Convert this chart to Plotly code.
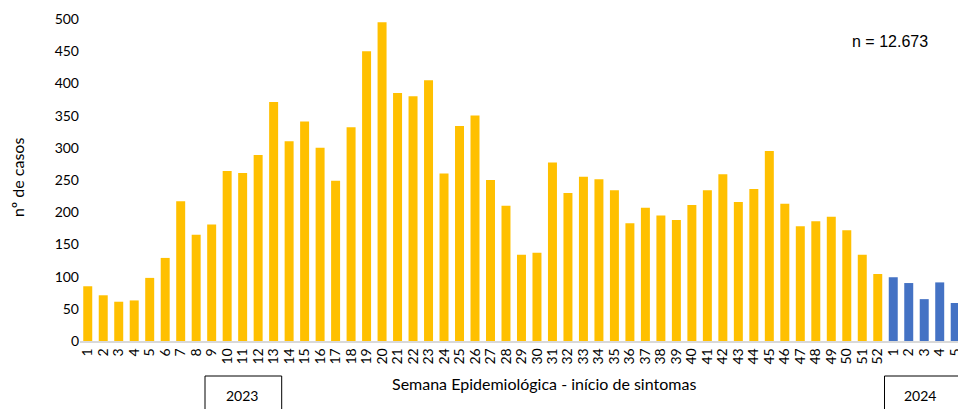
import plotly.graph_objects as go

weeks_2023 = [str(i) for i in range(1, 53)]
cases_2023 = [85, 71, 61, 63, 98, 129, 217, 165, 181, 264, 261, 289, 371, 310, 341, 300,
              249, 332, 450, 495, 385, 380, 405, 260, 334, 350, 250, 210, 134, 137,
              277, 230, 255, 251, 234, 183, 207, 195, 188, 211, 234, 259, 216, 236,
              295, 213, 178, 186, 193, 172, 134, 104]
weeks_2024 = ["1", "2", "3", "4", "5"]
cases_2024 = [99, 90, 65, 91, 59]

tick_labels = weeks_2023 + weeks_2024
pos_2023 = list(range(len(weeks_2023)))
pos_2024 = list(range(len(weeks_2023), len(weeks_2023) + len(weeks_2024)))

FONT = "Lato, Open Sans, sans-serif"
tick_font = dict(family=FONT, size=14, color="#000000")

fig = go.Figure()
fig.add_trace(go.Bar(x=pos_2023, y=cases_2023, marker=dict(color="#FFC000", line=dict(width=0)),
                     showlegend=False, hoverinfo="skip"))
fig.add_trace(go.Bar(x=pos_2024, y=cases_2024, marker=dict(color="#4472C4", line=dict(width=0)),
                     showlegend=False, hoverinfo="skip"))

W, H = 958, 409
PL, PR, PT, PB = 80, 958, 19, 341  # plot area in screen pixels
L, R, T, B = PL, W - PR, PT, H - PB
pw = PR - PL
ph = PB - PT

def px(x):
    return (x - PL) / pw

def py(y):
    return (PB - y) / ph

fig.update_layout(
    width=W, height=H,
    margin=dict(l=L, r=R, t=T, b=B, pad=0, autoexpand=False),
    plot_bgcolor="white", paper_bgcolor="white",
    bargap=0.42,
    xaxis=dict(
        range=[-0.5, 56.18], automargin=False,
        tickmode="array", tickvals=pos_2023 + pos_2024, ticktext=tick_labels,
        tickangle=-90, tickfont=tick_font, ticklabeloverflow="allow",
        showgrid=False, zeroline=False,
        showline=True, linecolor="#D9D9D9", linewidth=1.5,
        ticks="", ticklen=0,
    ),
    yaxis=dict(
        range=[0, 500], dtick=50, tickfont=tick_font, automargin=False,
        showgrid=False, zeroline=False, showline=False, ticks="",
    ),
    annotations=[
        dict(text="Semana Epidemiológica - início de sintomas", xref="paper", yref="paper",
             x=px(543.5), y=py(383), showarrow=False, xanchor="center", yanchor="middle",
             font=dict(family=FONT, size=16, color="#000000")),
        dict(text="nº de casos", xref="paper", yref="paper", textangle=-90,
             x=px(17), y=py(178), showarrow=False, xanchor="center", yanchor="middle",
             font=dict(family=FONT, size=16, color="#000000")),
        dict(text="n = 12.673", xref="paper", yref="paper",
             x=px(890), y=py(42), showarrow=False, xanchor="center", yanchor="middle",
             font=dict(family="Liberation Sans, Arial, sans-serif", size=16, color="#000000")),
        dict(text="2023", xref="paper", yref="paper",
             x=px(242), y=py(395), showarrow=False, xanchor="center", yanchor="middle",
             font=dict(family=FONT, size=14, color="#000000")),
        dict(text="2024", xref="paper", yref="paper",
             x=px(920), y=py(395), showarrow=False, xanchor="center", yanchor="middle",
             font=dict(family=FONT, size=14, color="#000000")),
    ],
    shapes=[
        dict(type="rect", xref="paper", yref="paper", x0=px(205), x1=px(281.7),
             y0=py(376), y1=py(415), line=dict(color="#000000", width=1), fillcolor="rgba(0,0,0,0)"),
        dict(type="rect", xref="paper", yref="paper", x0=px(884.5), x1=px(970),
             y0=py(376), y1=py(415), line=dict(color="#000000", width=1), fillcolor="rgba(0,0,0,0)"),
    ],
)

page_js = ("document.documentElement.style.margin='0';document.body.style.margin='0';"
           "document.documentElement.style.overflow='hidden';document.body.style.overflow='hidden';")
fig.write_html("out.html", post_script=page_js, config={"displayModeBar": False})
